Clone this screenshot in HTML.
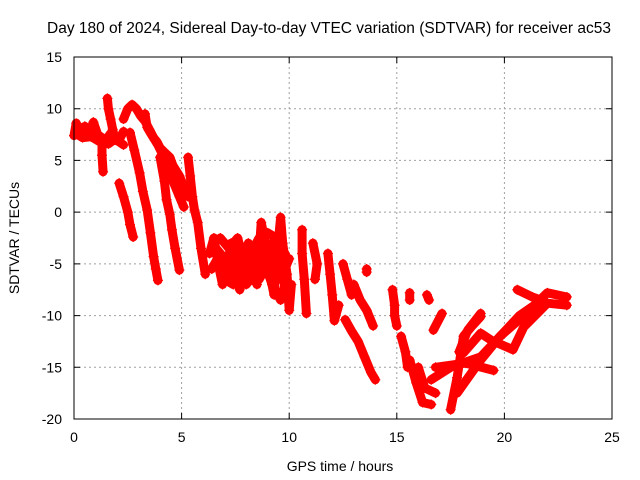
<!DOCTYPE html>
<html><head><meta charset="utf-8"><style>
body{margin:0;background:#fff}
svg{display:block;font-family:"Liberation Sans",sans-serif}
</style></head><body>
<svg id="chart" width="640" height="480">
<text x="329" y="33" text-anchor="middle" font-size="15.5">Day 180 of 2024, Sidereal Day-to-day VTEC variation (SDTVAR) for receiver ac53</text>
<text x="340" y="471" text-anchor="middle" font-size="14">GPS time / hours</text>
<text x="19" y="238" text-anchor="middle" font-size="14" transform="rotate(-90 19 238)">SDTVAR / TECUs</text>
<g id="grid"></g><g id="marks"></g><g id="axes"></g>
</svg>
<script>
const xTicks=[0,5,10,15,20,25];
const yTicks=[-20,-15,-10,-5,0,5,10,15];
const trA=[[0,7.4],[0.1,8.6],[0.3,7.8],[0.5,8.3],[0.7,7.6],[0.9,8.7],[1.1,7.5],[1.3,7.2],[1.5,7.0],[1.7,7.6],[1.9,7.3],[2.1,7.0],[2.3,7.8]];
const trA1=[[0.1,7.6],[0.4,7.2],[0.8,7.3],[1.2,6.8],[1.6,6.6],[2.0,7.2]];
const trA2=[[1.3,7],[1.3,5.5],[1.35,3.9]];
const trB=[[1.55,11],[1.6,10],[1.7,9],[1.8,8],[1.9,7],[2.1,6.8],[2.3,6.5]];
const trC=[[2.3,9.0],[2.5,10.0],[2.7,10.4],[2.9,10.0],[3.1,9.3],[3.3,8.8],[3.5,8],[3.7,7.2],[3.85,6.8],[4.0,6.2],[4.2,5.8],[4.45,5.3],[4.6,4.5],[4.9,3.5],[5.1,2.5],[5.3,1.5]];
const trC2=[[3.3,9.5],[3.4,8.2],[3.6,7.5],[3.9,6.5],[4.3,4.8],[4.6,3.0],[4.9,1.5],[5.1,0.5]];
const trD=[[2.1,2.8],[2.3,1.5],[2.5,0],[2.6,-1.2],[2.75,-2.4]];
const trE=[[2.6,7.7],[2.8,6],[3.05,3.8],[3.2,2],[3.4,0.2],[3.55,-2],[3.7,-4.3],[3.8,-5.5],[3.9,-6.6]];
const trF=[[4.0,5.3],[4.2,3],[4.3,1.2],[4.45,-0.2],[4.55,-1.7],[4.7,-3.5],[4.9,-5.6]];
const trG=[[5.3,5.3],[5.4,3.5],[5.5,1.5],[5.6,0.2],[5.75,-1],[5.9,-3.5],[6.1,-6]];
const trH=[[6.3,-4],[6.5,-2.5],[6.7,-5],[6.9,-7],[7.1,-5.5],[7.3,-3],[7.5,-5.5],[7.7,-7.5],[7.9,-5],[8.1,-3],[8.3,-5],[8.5,-7],[8.6,-4],[8.7,-1],[8.9,-3],[9.1,-6],[9.3,-8],[9.4,-5],[9.6,-0.5],[9.7,-3],[9.9,-6],[10.0,-9.5],[10.1,-7]];
const trH2=[[6.8,-2.5],[7.2,-3.5],[7.6,-2.5],[8.0,-5.5],[8.4,-4],[8.8,-6],[9.2,-3],[9.6,-6.5],[10.0,-4.5]];
const trH3=[[6.4,-5.5],[6.8,-4],[7.2,-6.5],[7.6,-4.5],[8.0,-7],[8.4,-6],[8.8,-4.5],[9.2,-7],[9.6,-8.5],[9.8,-7]];
const trH4=[[6.6,-3.5],[7.0,-4.5],[7.4,-4],[7.8,-3.5],[8.2,-4],[8.6,-2.5],[9.0,-2],[9.4,-2.5],[9.8,-4]];
const trH5=[[7.0,-6.5],[7.4,-7],[7.8,-6.5],[8.2,-6],[8.6,-6.5],[9.0,-5],[9.4,-6.5],[9.8,-5.5]];
const trI=[[10.6,-1.7],[10.6,-4],[10.7,-6.5],[10.8,-9.8]];
const trJ=[[11.1,-3],[11.3,-5],[11.2,-6.5]];
const trK=[[11.8,-4],[11.9,-6],[12.0,-8],[12.1,-10.5],[12.3,-9]];
const trL=[[12.5,-5],[12.7,-6.5],[12.9,-8]];
const trM=[[12.6,-10.4],[12.9,-11.5],[13.2,-12.5],[13.5,-14],[13.8,-15.5],[14.0,-16.2]];
const trN=[[13.0,-7],[13.3,-8.5],[13.6,-9.5],[13.9,-11]];
const trIso=[[13.6,-5.5],[13.6,-5.8]];
const trO=[[14.8,-7.5],[14.9,-9],[14.9,-10],[15.0,-11]];
const trP=[[15.2,-12],[15.4,-13.5],[15.5,-15]];
const trQ=[[15.6,-7.8],[15.6,-8.5]];
const trR=[[16.4,-8],[16.5,-8.5]];
const t1=[[15.6,-14.3],[15.9,-16.5],[16.2,-18.4],[16.6,-18.6]];
const t2=[[17.5,-19.1],[17.8,-16],[18.1,-12],[18.5,-11],[18.9,-10.1]];
const t3=[[16.6,-16.2],[17.5,-15],[18.9,-14],[19.8,-12],[20.7,-10],[21.4,-9],[22,-7.8],[22.9,-8.2]];
const t4=[[16.8,-15],[18.2,-14.6],[19.5,-15.3]];
const t5=[[18.1,-13.6],[18.9,-11.7],[19.4,-12.4],[20.4,-13.3],[20.9,-11.1],[22,-8.8],[22.9,-9]];
const t6=[[17.8,-17.5],[18.9,-14.3],[19.8,-12],[20.9,-10],[21.7,-8.5]];
const t7=[[20.6,-7.5],[21.3,-8.2],[21.7,-8.5]];
const t8=[[16.7,-11.4],[17.1,-9.8]];
const t9=[[18.9,-9.8],[18.3,-11.4],[17.9,-13.5]];
const t10=[[16.0,-15],[16.3,-17],[16.8,-17.5]];
const tracks=[trA,trA1,trA2,trB,trC,trC2,trD,trE,trF,trG,trH,trH2,trH3,trH4,trH5,trI,trJ,trK,trL,trM,trN,trIso,trO,trP,trQ,trR,t1,t2,t3,t4,t5,t6,t7,t8,t9,t10];

const X0=74,X1=612,Y0=419,Y1=57;
const sx=v=>X0+(v-0)/25*(X1-X0);
const sy=v=>Y0-(v+20)/35*(Y0-Y1);
const NS="http://www.w3.org/2000/svg";
const grid=document.getElementById('grid'),marks=document.getElementById('marks'),axes=document.getElementById('axes');
function mk(tag,attrs,parent){const e=document.createElementNS(NS,tag);for(const k in attrs)e.setAttribute(k,attrs[k]);parent.appendChild(e);return e;}

xTicks.forEach(t=>{
  const x=sx(t);
  if(t>0&&t<25){const g=mk('line',{x1:x,x2:x,y1:Y1,y2:Y0,stroke:'#a0a0a0','stroke-dasharray':'2,3'},grid);
  
  }
  const tk=mk('path',{d:`M${x},${Y0}v-6M${x},${Y1}v6`,stroke:'#000'},axes);
  
  
  const l=mk('text',{x:x,y:Y0+23,'text-anchor':'middle','font-size':'14'},axes);l.textContent=t;
  
  
});
yTicks.forEach(t=>{
  const y=sy(t);
  if(t>-20&&t<15){const g=mk('line',{x1:X0,x2:X1,y1:y,y2:y,stroke:'#a0a0a0','stroke-dasharray':'2,3'},grid);
  
  }
  const tk=mk('path',{d:`M${X0},${y}h6M${X1},${y}h-6`,stroke:'#000'},axes);
  
  
  const l=mk('text',{x:X0-12,y:y+5,'text-anchor':'end','font-size':'14'},axes);l.textContent=t;
  
  
});
const fr=mk('rect',{x:X0,y:Y1,width:X1-X0,height:Y0-Y1,fill:'none',stroke:'#000'},axes);



tracks.forEach(tr=>{
  const d=tr.map((p,i)=>(i?'L':'M')+sx(p[0]).toFixed(1)+','+sy(p[1]).toFixed(1)).join('');
  const pl=mk('path',{d:d,fill:'none',stroke:'#f00','stroke-width':9,'stroke-linejoin':'round','stroke-linecap':'round'},marks);
  
  
  tr.forEach(p=>{
    const x=sx(p[0]),y=sy(p[1]);
    const m=mk('path',{d:`M${x-5},${y}h10M${x},${y-5}v10`,stroke:'#f00','stroke-width':1.2},marks);
    
    
  });
});
</script>
</body></html>
